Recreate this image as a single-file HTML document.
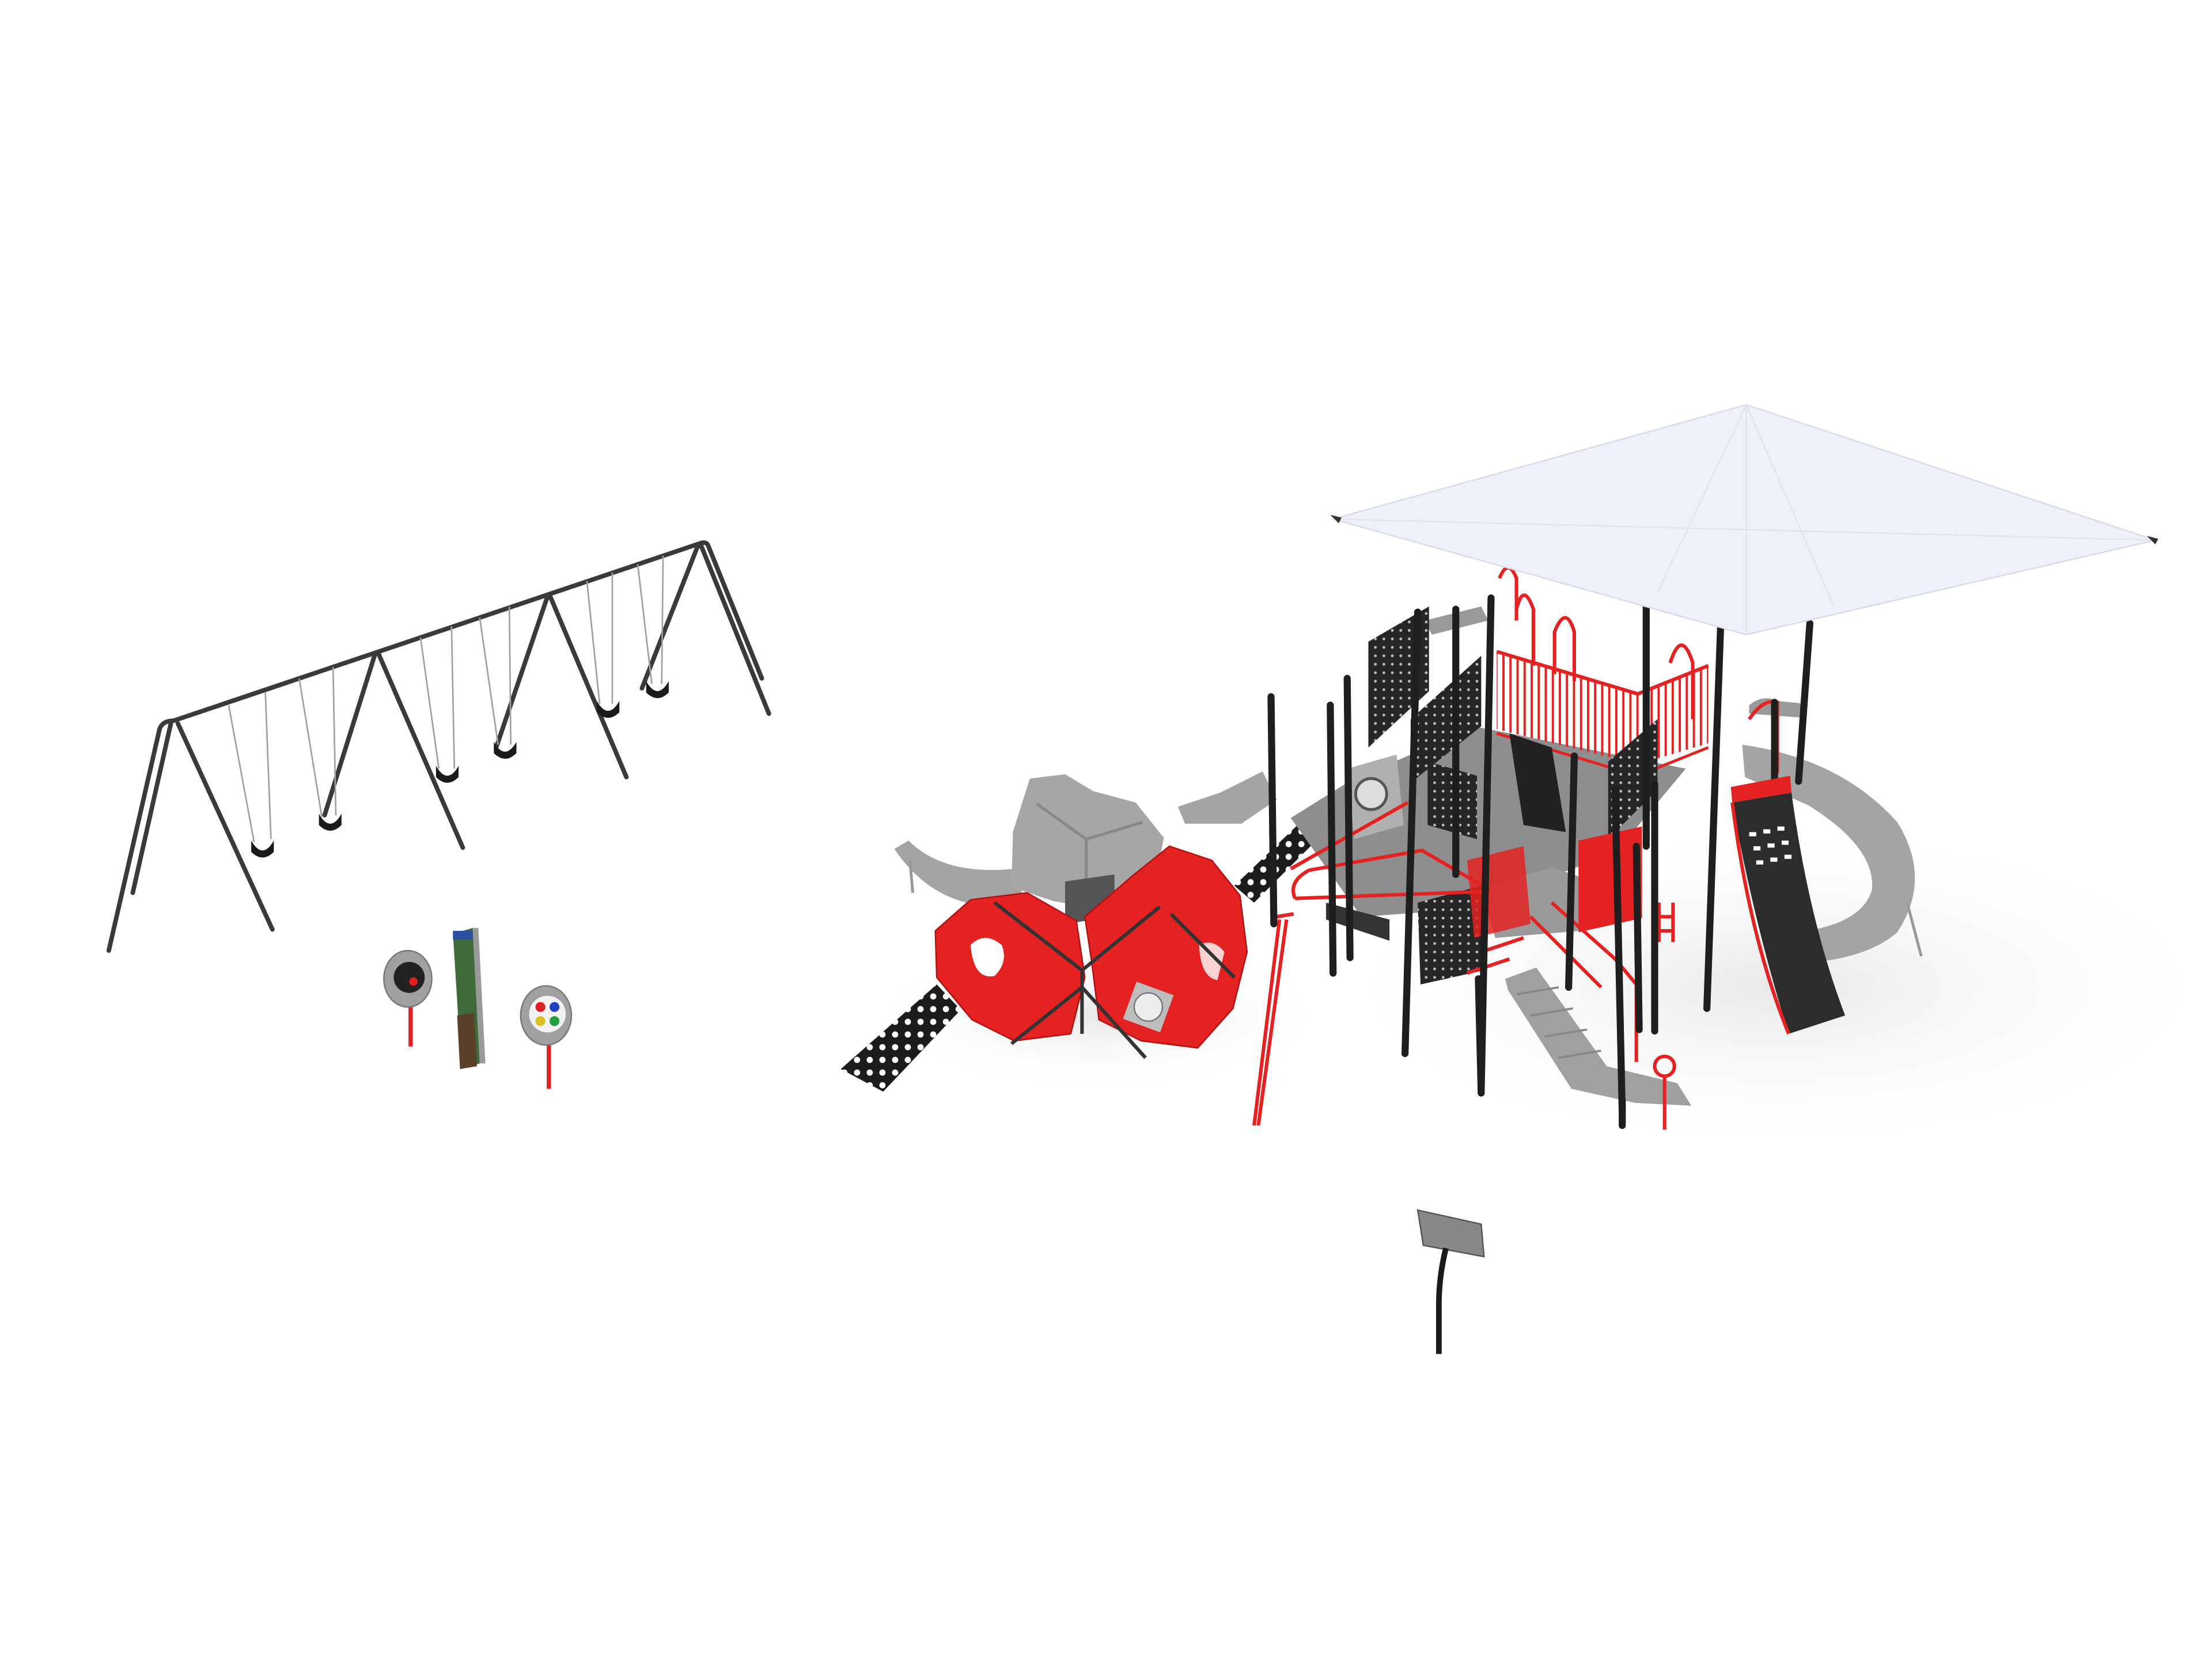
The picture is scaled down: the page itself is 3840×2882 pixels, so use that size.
<!DOCTYPE html>
<html><head><meta charset="utf-8"><style>html,body{margin:0;padding:0;background:#fff;overflow:hidden}svg{display:block}</style></head>
<body>
<svg width="3840" height="2882" viewBox="0 0 1568 1177" xmlns="http://www.w3.org/2000/svg">
<rect width="1568" height="1177" fill="#fff"/>
<defs>
<radialGradient id="sh" cx="0.5" cy="0.5" r="0.5"><stop offset="0" stop-color="#e8e8e8"/><stop offset="1" stop-color="#fff" stop-opacity="0"/></radialGradient>
<pattern id="bars" width="5" height="10" patternUnits="userSpaceOnUse"><rect width="5" height="10" fill="none"/><rect x="0" width="1.6" height="10" fill="#e42222"/></pattern>
<pattern id="perf" width="6" height="6" patternUnits="userSpaceOnUse"><rect width="6" height="6" fill="#262626"/><circle cx="3" cy="3" r="1" fill="#bbb"/></pattern>
<pattern id="hex" width="9" height="9" patternUnits="userSpaceOnUse"><rect width="9" height="9" fill="#1c1c1c"/><circle cx="4.5" cy="4.5" r="2.2" fill="#fff"/></pattern>
</defs>
<!-- shadows -->
<ellipse cx="1260" cy="700" rx="330" ry="120" fill="url(#sh)"/>
<ellipse cx="780" cy="720" rx="170" ry="55" fill="url(#sh)"/>
<!-- swing set -->
<g stroke="#3a3a3a" stroke-width="3.2" fill="none" stroke-linecap="round">
<path d="M113 517 q2 -6 10 -6 L497 385"/>
<line x1="113" y1="517" x2="77" y2="674"/><line x1="121" y1="513" x2="94" y2="633"/>
<line x1="126" y1="513" x2="193" y2="659"/>
<line x1="266" y1="463" x2="230" y2="578"/><line x1="268" y1="463" x2="328" y2="601"/>
<line x1="388" y1="423" x2="352" y2="529"/><line x1="390" y1="423" x2="444" y2="551"/>
<line x1="495" y1="386" x2="455" y2="488"/><path d="M497 385 q4 -1 5 2 L540 481"/><line x1="497" y1="387" x2="545" y2="506"/>
</g>
<g stroke="#a0a0a0" stroke-width="1.1">
<line x1="162" y1="500" x2="180" y2="597"/><line x1="188" y1="491" x2="192" y2="595"/>
<line x1="212" y1="481" x2="228" y2="579"/><line x1="236" y1="473" x2="238" y2="578"/>
<line x1="298" y1="452" x2="311" y2="545"/><line x1="320" y1="444" x2="322" y2="545"/>
<line x1="340" y1="438" x2="353" y2="528"/><line x1="361" y1="430" x2="362" y2="528"/>
<line x1="416" y1="412" x2="425" y2="499"/><line x1="434" y1="406" x2="434" y2="499"/>
<line x1="452" y1="400" x2="462" y2="485"/><line x1="470" y1="394" x2="469" y2="485"/>
</g>
<g fill="#1a1a1a">
<path d="M178 596 q8 14 16 0 l0 8 q-8 8 -16 0z"/><path d="M226 577 q8 14 16 0 l0 8 q-8 8 -16 0z"/>
<path d="M309 543 q8 14 16 0 l0 8 q-8 8 -16 0z"/><path d="M350 526 q8 14 16 0 l0 8 q-8 8 -16 0z"/>
<path d="M423 497 q8 14 16 0 l0 8 q-8 8 -16 0z"/><path d="M458 483 q8 14 16 0 l0 8 q-8 8 -16 0z"/>
</g>
<!-- small panels -->
<line x1="291" y1="712" x2="291" y2="742" stroke="#e02020" stroke-width="3"/>
<ellipse cx="289" cy="694" rx="17" ry="20" fill="#a0a0a0" stroke="#777"/><circle cx="290" cy="693" r="11" fill="#222"/><circle cx="293" cy="696" r="3" fill="#e02020"/>
<path d="M321 662 l14 -4 l5 96 l-13 4z" fill="#3e6a3a"/><path d="M335 658 l4 0 l5 96 l-4 0z" fill="#999"/>
<rect x="321" y="660" width="14" height="6" fill="#2a50a0"/><path d="M324 720 l12 -2 l2 38 l-12 2z" fill="#5a4028"/>
<line x1="389" y1="738" x2="389" y2="772" stroke="#e02020" stroke-width="3"/>
<ellipse cx="387" cy="720" rx="18" ry="21" fill="#a0a0a0" stroke="#777"/><circle cx="388" cy="719" r="13" fill="#f2f2f2"/>
<circle cx="383" cy="714" r="3.5" fill="#e02020"/><circle cx="393" cy="714" r="3.5" fill="#2040c0"/><circle cx="383" cy="724" r="3.5" fill="#e0c020"/><circle cx="393" cy="724" r="3.5" fill="#20a040"/>
<!-- gray slide left -->
<path d="M634 602 l10 -6 q25 25 75 20 l8 25 q-60 10 -93 -39z" fill="#a4a4a4"/>
<line x1="645" y1="610" x2="647" y2="633" stroke="#999" stroke-width="2"/>
<!-- upper-right gray slide -->
<path d="M835 572 l30 -10 l30 -15 l10 20 l-25 17 l-40 0z" fill="#a4a4a4"/>
<!-- gray tent -->
<path d="M718 590 l12 -38 l25 -3 l20 12 l30 8 l20 25 l-8 40 l-40 10 l-30 -5 l-30 -10z" fill="#a6a6a6"/>
<path d="M735 570 l35 25 l40 -12 M770 595 l0 40" stroke="#888" fill="none" stroke-width="2"/>
<path d="M755 625 l35 -5 l0 30 l-35 5z" fill="#555"/>
<!-- red pods -->
<g fill="#e42222" stroke="#b01010" stroke-width="1">
<path d="M663 660 l25 -22 l40 -5 l35 20 l6 40 l-10 40 l-40 5 l-30 -15 l-25 -30z"/>
<path d="M769 650 l35 -30 l25 -20 l30 10 l20 25 l5 40 l-10 40 l-25 28 l-40 -5 l-30 -15 l-5 -40z"/>
</g>
<path d="M688 670 q10 -10 22 0 q5 12 -5 22 q-15 3 -17 -22z" fill="#fff"/>
<path d="M850 670 q10 -5 18 5 l-5 20 q-12 -2 -13 -25z" fill="#fff" opacity="0.8"/>
<g stroke="#333" stroke-width="2.5" fill="none">
<path d="M705 640 l62 48 l55 -45"/><path d="M767 688 l0 45"/><path d="M767 700 l-50 40 M767 700 l45 50"/><path d="M830 648 l45 45"/>
</g>
<rect x="800" y="700" width="28" height="28" transform="rotate(20 814 714)" fill="#bdbdbd"/>
<circle cx="814" cy="714" r="10" fill="#eee" stroke="#777"/>
<!-- black ramps -->
<path d="M596 758 l68 -60 l17 18 l-55 58z" fill="url(#hex)"/>
<path d="M875 628 l50 -48 l12 12 l-48 48z" fill="url(#hex)"/>
<!-- right gray spiral slide -->
<path d="M1235 528 q70 10 110 55 q25 40 0 78 q-20 18 -65 22 l-5 -22 q45 -6 52 -30 q3 -30 -45 -60 l-45 -20z" fill="#a4a4a4"/>
<line x1="1352" y1="640" x2="1362" y2="678" stroke="#999" stroke-width="2"/>
<path d="M1240 500 q10 -8 20 -3 l20 2 l0 10 l-40 -3z" fill="#9a9a9a"/>
<!-- main structure decks -->
<path d="M915 580 l40 -25 l90 -40 l150 30 l-50 60 l-110 40 l-70 5z" fill="#8e8e8e"/>
<path d="M1050 630 l50 -15 l60 20 l-40 25 l-60 5z" fill="#9a9a9a"/>
<path d="M1010 440 l40 -10 l5 10 l-40 10z" fill="#999"/>
<!-- upper deck red bars -->
<path d="M1061 462 l100 30 l50 -20 l0 55 l-50 15 l-100 -25z" fill="url(#bars)"/>
<path d="M1061 462 l100 30 l50 -20" stroke="#e42222" stroke-width="2.5" fill="none"/>
<path d="M1061 520 l100 30 l50 -20" stroke="#e42222" stroke-width="2" fill="none"/>
<!-- perforated panels -->
<path d="M970 455 l43 -25 l0 60 l-43 40z" fill="url(#perf)"/>
<path d="M1000 510 l50 -45 l0 50 l-50 40z" fill="url(#perf)"/>
<path d="M1140 540 l35 -30 l0 50 l-35 35z" fill="url(#perf)"/>
<path d="M1012 540 l35 10 l0 45 l-35 -10z" fill="url(#perf)"/>
<path d="M1070 520 l30 10 l10 60 l-30 -5z" fill="#222"/>
<path d="M1005 640 l45 -12 l2 60 l-45 10z" fill="url(#perf)"/>
<path d="M940 640 l45 12 l0 15 l-45 -15z" fill="#333"/>
<!-- red panel -->
<path d="M1119 596 l45 -10 l0 65 l-45 10z" fill="#e42222"/>
<path d="M1040 610 l40 -10 l5 55 l-40 10z" fill="#e42222" opacity="0.85"/>
<!-- gray panel w/ window -->
<path d="M955 545 l35 -10 l5 50 l-35 10z" fill="#b0b0b0"/>
<circle cx="972" cy="563" r="11" fill="#ddd" stroke="#555" stroke-width="2"/>
<!-- stairs -->
<path d="M1067 694 l22 -8 l50 70 l50 12 l10 16 l-40 -2 l-45 -10 l-45 -70z" fill="#a0a0a0"/>
<path d="M1075 705 l30 -5 M1085 720 l30 -5 M1095 735 l30 -5 M1105 750 l30 -5" stroke="#888" stroke-width="1.5"/>
<!-- red rails -->
<g stroke="#e42222" stroke-width="2.5" fill="none">
<path d="M915 616 l83 -47"/><path d="M918 637 q-5 -12 10 -20 l80 -14 l48 28"/><path d="M918 637 l138 -5"/>
<path d="M907 652 l-18 146"/><path d="M912 652 l-20 146"/><path d="M905 650 l12 -2"/>
<path d="M1100 640 l45 40 l15 18 l0 55"/><path d="M1085 650 l50 50"/>
<path d="M1075 432 q5 -20 12 0 l0 40"/><path d="M1102 478 l0 -30 q8 -20 14 0 l0 35"/>
<path d="M1184 470 q8 -25 16 0 l0 40"/><path d="M1240 510 q10 -15 20 -12 l0 50"/>
<path d="M1063 410 q6 -15 12 0 l0 30"/>
<path d="M1176 640 l0 28 M1186 640 l0 28 M1176 650 l10 0 M1176 660 l10 0"/>
<circle cx="1180" cy="756" r="7"/><path d="M1180 763 l0 38"/>
<path d="M1050 675 l30 -10 M1040 690 l30 -10"/>
</g>
<!-- black posts -->
<g stroke="#1e1e1e" stroke-width="5" stroke-linecap="round">
<line x1="901" y1="494" x2="903" y2="655"/><line x1="943" y1="500" x2="945" y2="690"/>
<line x1="955" y1="481" x2="957" y2="679"/><line x1="1005" y1="434" x2="996" y2="747"/>
<line x1="1032" y1="432" x2="1032" y2="620"/><line x1="1057" y1="424" x2="1050" y2="773"/>
<line x1="1116" y1="536" x2="1112" y2="700"/><line x1="1145" y1="560" x2="1150" y2="790"/>
<line x1="1160" y1="600" x2="1162" y2="730"/><line x1="1167" y1="425" x2="1167" y2="600"/>
<line x1="1173" y1="556" x2="1173" y2="731"/>
<line x1="1220" y1="437" x2="1210" y2="715"/><line x1="1258" y1="498" x2="1258" y2="555"/>
<line x1="1283" y1="442" x2="1275" y2="554"/><line x1="1048" y1="694" x2="1050" y2="775"/>
<line x1="1150" y1="780" x2="1150" y2="798"/>
</g>
<!-- black slide right -->
<path d="M1228 569 l42 -7 q12 90 38 158 l-40 13 q-25 -80 -40 -164z" fill="#2c2c2c"/>
<path d="M1228 569 q12 95 40 164" stroke="#e42222" stroke-width="2.5" fill="none"/>
<path d="M1228 569 l42 -7 l-1 -12 l-42 8z" fill="#e42222"/>
<g fill="#fff"><rect x="1240" y="590" width="5" height="3"/><rect x="1250" y="588" width="5" height="3"/><rect x="1260" y="586" width="5" height="3"/><rect x="1243" y="600" width="5" height="3"/><rect x="1253" y="598" width="5" height="3"/><rect x="1263" y="596" width="5" height="3"/><rect x="1245" y="610" width="5" height="3"/><rect x="1255" y="608" width="5" height="3"/><rect x="1265" y="606" width="5" height="3"/></g>
<!-- canopy -->
<path d="M945 368 L1238 287 L1528 383 L1238 450 Z" fill="#eef0fa" stroke="#d8dbe8" stroke-width="1"/>
<path d="M1238 287 L1238 450 M945 368 L1528 383 M1238 287 L1175 420 M1238 287 L1300 430" stroke="#e0e3f0" stroke-width="1" fill="none"/>
<path d="M943 365 l8 2 l-2 4z M1522 380 l8 2 l-2 4z" fill="#333"/>
<!-- sign -->
<path d="M1005 858 l45 10 l2 23 l-43 -8z" fill="#888" stroke="#555"/>
<path d="M1025 885 q-5 20 -5 40 l0 35" stroke="#1a1a1a" stroke-width="4" fill="none"/>
</svg>
</body></html>
